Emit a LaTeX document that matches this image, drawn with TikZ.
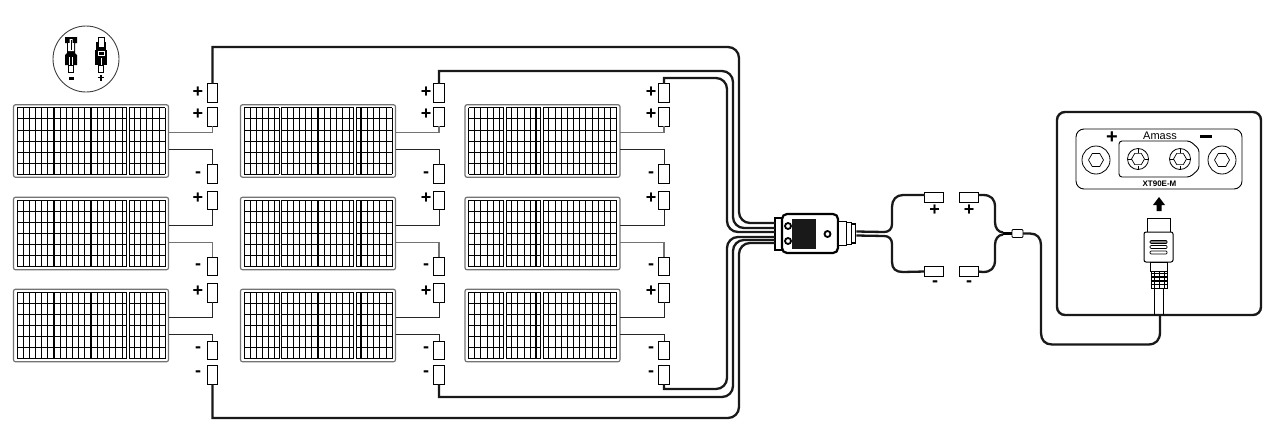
\documentclass[tikz,border=0pt]{standalone}
\usepackage{fontspec}
\setmainfont{Liberation Sans}
\usetikzlibrary{calc,shapes.geometric}
\tikzset{
 panel/.style={draw=black!55,line width=1.2pt,rounded corners=2pt,minimum width=155pt,minimum height=72.5pt,inner sep=0pt,outer sep=0pt},
 conbox/.style={draw=black,line width=.9pt,fill=white,minimum width=10.5pt,minimum height=18.5pt,inner sep=0pt,outer sep=0pt},
 hbox/.style={draw=black,line width=.9pt,fill=white,minimum width=18.5pt,minimum height=10.5pt,inner sep=0pt,outer sep=0pt},
 gwire/.style={draw=black!55,line width=1.3pt},
 kwire/.style={draw=black!85,line width=.9pt},
 bus/.style={draw=black!90,line width=2.3pt},
 lab/.style={font=\bfseries\fontsize{18}{18}\selectfont,inner sep=0pt},
 cell/.style={draw=black,line width=.75pt},
 thickdiv/.style={draw=black,line width=1.6pt}
}
\newcommand{\panelbase}[1]{%
 \begin{scope}[shift={(#1.north west)}]
  \foreach \i in {0,...,6}{\draw[cell] (3.5,3+11.1*\i) -- (151.5,3+11.1*\i);}
  \foreach \i in {0,...,24}{\draw[cell] (3.5+6.17*\i,3) -- (3.5+6.17*\i,69.6);}
 \end{scope}}
\newcommand{\dbldiv}[2]{%
 \begin{scope}[shift={(#1.north west)}]
  \fill[white] (#2-1,2.6) rectangle (#2+1,70);
  \draw[cell] (#2-1.4,3) -- (#2-1.4,69.6);
  \draw[cell] (#2+1.4,3) -- (#2+1.4,69.6);
 \end{scope}}
\newcommand{\thkdiv}[2]{%
 \begin{scope}[shift={(#1.north west)}]
  \draw[thickdiv] (#2,3) -- (#2,69.6);
 \end{scope}}
\begin{document}
\begin{tikzpicture}[x=1pt,y=-1pt]
\useasboundingbox (0,0) rectangle (1276,442);
% panels
\foreach \c/\x in {1/91,2/318,3/542.5}{
 \foreach \r/\y in {1/141,2/233.5,3/325.5}{
  \node[panel] (p\c\r) at (\x,\y) {};
  \panelbase{p\c\r}
 }}
\foreach \r in {1,2,3}{
 \dbldiv{p1\r}{114.5}\thkdiv{p1\r}{40.5}\thkdiv{p1\r}{77.5}
 \dbldiv{p2\r}{39.8}\dbldiv{p2\r}{114.5}\thkdiv{p2\r}{77.3}\thkdiv{p2\r}{120.7}
 \dbldiv{p3\r}{39.8}\dbldiv{p3\r}{77}\thkdiv{p3\r}{71}\thkdiv{p3\r}{114.5}
}
% connector boxes
\foreach \c/\x/\lx in {1/212.5/198,2/439/426,3/664/651}{
 \node[conbox] (top\c) at (\x,93) {};
 \node[conbox] (a\c) at (\x,117) {};
 \node[conbox] (b\c) at (\x,174) {};
 \node[conbox] (d\c) at (\x,200.5) {};
 \node[conbox] (e\c) at (\x,266.5) {};
 \node[conbox] (f\c) at (\x,293) {};
 \node[conbox] (g\c) at (\x,350.5) {};
 \node[conbox] (bot\c) at (\x,375) {};
 \node[lab] (lt\c) at (\lx,92) {+};
 \node[lab] (la\c) at (\lx,114) {+};
 \node[lab] (lb\c) at (\lx,175) {-};
 \node[lab] (ld\c) at (\lx,198) {+};
 \node[lab] (le\c) at (\lx,267) {-};
 \node[lab] (lf\c) at (\lx,291) {+};
 \node[lab] (lg\c) at (\lx,350) {-};
 \node[lab] (lh\c) at (\lx,374) {-};
 \draw[gwire] ($(p\c1.north east)+(0,28)$) -| (a\c.south);
 \draw[kwire] ($(p\c1.north east)+(0,45)$) -| (b\c.north);
 \draw[kwire] ($(p\c2.north east)+(0,28)$) -| (d\c.south);
 \draw[gwire] ($(p\c2.north east)+(0,45)$) -| (e\c.north);
 \draw[kwire] ($(p\c3.north east)+(0,28)$) -| (f\c.south);
 \draw[kwire] ($(p\c3.north east)+(0,45)$) -| (g\c.north);
}
% main connector
\node[draw=black,line width=2.2pt,fill=white,minimum width=7pt,minimum height=32pt,inner sep=0pt] (flange) at (778.5,234) {};
\node[draw=black,line width=2.2pt,fill=white,rounded corners=5pt,minimum width=56pt,minimum height=39pt,inner sep=0pt] (conn) at (810,233.5) {};
\node[fill=black!90,minimum width=24pt,minimum height=30pt,inner sep=0pt] (square) at (804,234) {};
\node[draw=black,line width=1.8pt,circle,minimum size=6pt,fill=white,inner sep=0pt] (h1) at (788,226) {};
\node[draw=black,line width=1.8pt,circle,minimum size=6pt,fill=white,inner sep=0pt] (h2) at (788,241) {};
\node[draw=black,line width=1.8pt,circle,minimum size=6pt,fill=white,inner sep=0pt] (h3) at (827.5,234) {};
\node[draw=black,line width=1.8pt,fill=white,minimum width=8pt,minimum height=24pt,inner sep=0pt] (sr1) at (842.5,233.5) {};
\node[draw=black,line width=1.8pt,fill=white,minimum width=5pt,minimum height=22pt,inner sep=0pt] (sr2) at (849,233.5) {};
\node[draw=black,line width=1.8pt,fill=white,minimum width=4pt,minimum height=19pt,inner sep=0pt] (sr3) at (853.5,233.5) {};
% buses
\coordinate (u1) at (739,47); \coordinate (u1b) at (775,223);
\coordinate (u2) at (733,71); \coordinate (u2b) at (775,228);
\coordinate (u3) at (727,78); \coordinate (u3b) at (775,232);
\coordinate (l1) at (739,418); \coordinate (l1b) at (775,243);
\coordinate (l2) at (733,397); \coordinate (l2b) at (775,240);
\coordinate (l3) at (727,389); \coordinate (l3b) at (775,237);
\draw[bus] (top1.north) -- (top1.north |- u1) [rounded corners=11pt] -- (u1) -- (u1 |- u1b) -- (u1b);
\draw[bus] (top2.north) -- (top2.north |- u2) [rounded corners=11pt] -- (u2) -- (u2 |- u2b) -- (u2b);
\draw[bus] (top3.north) -- (top3.north |- u3) [rounded corners=11pt] -- (u3) -- (u3 |- u3b) -- (u3b);
\draw[bus] (bot1.south) -- (bot1.south |- l1) [rounded corners=11pt] -- (l1) -- (l1 |- l1b) -- (l1b);
\draw[bus] (bot2.south) -- (bot2.south |- l2) [rounded corners=11pt] -- (l2) -- (l2 |- l2b) -- (l2b);
\draw[bus] (bot3.south) -- (bot3.south |- l3) [rounded corners=11pt] -- (l3) -- (l3 |- l3b) -- (l3b);
% splitter
\node[hbox] (lp) at (934,197.5) {};
\node[hbox] (rp) at (969,197.5) {};
\node[hbox] (lm) at (934,271.5) {};
\node[hbox] (rm) at (969,271.5) {};
\node[lab] at (934.5,210) (tlp) {+};
\node[lab] at (969,210) (trp) {+};
\node[lab] at (935,284) (tlm) {-};
\node[lab] at (969,284) (trm) {-};
\coordinate (forkr) at (1003,233.5);
\draw[bus] ($(sr3.east)+(0,-2)$) -- (884,232) .. controls (889,232) and (892,229) .. (892,224) -- (892,207) .. controls (892,200) and (896,195) .. (903,195) -- (lp.west |- 0,195);
\draw[bus] ($(sr3.east)+(0,2)$) -- (884,236) .. controls (889,236) and (892,239) .. (892,244) -- (892,262) .. controls (892,269) and (896,272) .. (903,272) -- (lm.west);
\node[hbox,minimum width=11pt,minimum height=8pt,line width=.8pt,rounded corners=1pt] (ins) at (1017.5,233.5) {};
\draw[bus] (rp.east |- 0,195) -- (983,195) .. controls (991,195) and (995,199) .. (995,207) -- (995,222) .. controls (995,228) and (998,232) .. (1003,232.5);
\draw[bus] (rm.east) -- (983,272) .. controls (991,272) and (995,268) .. (995,260) -- (995,245) .. controls (995,239) and (998,235) .. (1003,234.5);
\draw[draw=black,line width=3.5pt] (forkr) -- (ins.west);
% device
\node[draw=black!90,line width=2.4pt,rounded corners=8pt,minimum width=204pt,minimum height=203pt,inner sep=0pt] (dev) at (1159,213.5) {};
\node[draw=black,line width=.9pt,rounded corners=8pt,minimum width=166pt,minimum height=60pt,inner sep=0pt] (plate) at (1159,159) {};
\draw[bus] (ins.east) -- (1030,233.5) .. controls (1037,233.5) and (1041,238) .. (1041,245) -- (1041,333) .. controls (1041,340) and (1045,344.5) .. (1052,344.5) -- (1148,344.5) .. controls (1156,344.5) and (1160,340) .. (1160,332) -- (1160,315);
\foreach \n/\x in {sl/1096,sr/1222}{
 \node[draw=black,line width=.8pt,circle,minimum size=28pt,inner sep=0pt] (\n) at (\x,160) {};
 \node[draw=black,line width=.7pt,regular polygon,regular polygon sides=6,minimum size=15pt,inner sep=0pt] (\n h) at (\x,160) {};
}
\draw[draw=black,line width=.9pt,rounded corners=3pt] (1119,141) -- (1190,141) -- (1199,149) -- (1199,169) -- (1190,177) -- (1119,177) -- cycle;
\foreach \n/\x in {tl/1138,tr/1180}{
 \node[draw=black,line width=.8pt,circle,minimum size=21pt,inner sep=0pt] (\n) at (\x,159) {};
 \node[draw=black,line width=.7pt,regular polygon,regular polygon sides=6,minimum size=13pt,inner sep=0pt] (\n h) at (\x,159) {};
 \foreach \a in {0,90,180,270}{\draw[draw=black,line width=.6pt] ($(\n)+(\a:6.5)$) -- ($(\n)+(\a:10.5)$);}
}
\node[inner sep=0pt,font=\fontsize{11}{11}\selectfont] (amass) at (1160,136) {Amass};
\node[inner sep=0pt,font=\bfseries\fontsize{8}{8}\selectfont] (xt) at (1159.5,184) {XT90E-M};
\node[font=\bfseries\fontsize{20}{20}\selectfont,inner sep=0pt] (pl) at (1112,138) {+};
\node[fill=black,minimum width=12pt,minimum height=3.5pt,inner sep=0pt] (mn) at (1206,136.5) {};
\draw[fill=black,draw=none] (1159,197) -- (1165,205) -- (1161.5,205) -- (1161.5,211) -- (1156.5,211) -- (1156.5,205) -- (1153,205) -- cycle;
% plug
\node[draw=black,line width=.9pt,fill=white,minimum width=23pt,minimum height=16pt,inner sep=0pt] (ptop) at (1158.5,226) {};
\node[draw=black,line width=1pt,fill=white,rounded corners=2pt,minimum width=29pt,minimum height=30pt,inner sep=0pt] (pbody) at (1158.5,247) {};
\node[draw=black,line width=.7pt,fill=black!50,rounded corners=1pt,minimum width=17pt,minimum height=3pt,inner sep=0pt] (s1) at (1158.5,242) {};
\node[draw=black,line width=.7pt,rounded corners=1pt,minimum width=17pt,minimum height=3pt,inner sep=0pt] (s2) at (1158.5,247) {};
\node[draw=black,line width=.7pt,rounded corners=1pt,minimum width=17pt,minimum height=3pt,inner sep=0pt] (s3) at (1158.5,252.5) {};
\node[draw=black,line width=.9pt,minimum width=17pt,minimum height=9pt,inner sep=0pt] (pneck) at (1159,266.5) {};
\node[draw=black,line width=.9pt,minimum width=16pt,minimum height=17pt,inner sep=0pt] (prib) at (1159,279.5) {};
\foreach \y in {273.5,277,281,284.5}{\draw[draw=black,line width=1.1pt] (prib.west |- 0,\y) -- (prib.east |- 0,\y);}
\foreach \x in {1154,1159,1164}{\draw[draw=black,line width=.6pt] (\x,271) -- (\x,288);}
\draw[draw=black,line width=.9pt] (1154.5,288) -- (1154.5,315) (1163.5,288) -- (1163.5,315);
% inset
\node[draw=black!75,line width=.9pt,circle,minimum size=66pt,inner sep=0pt] (inset) at (86,59) {};
\begin{scope}
 % minus connector
 \fill[black] (65,37) -- (77,37) -- (77,43) -- (75,43) -- (75,53) -- (77,55) -- (77,65) -- (65,65) -- (65,55) -- (67,53) -- (67,43) -- (65,43) -- cycle;
 \fill[white] (69.5,39) -- (72.5,39) -- (72.5,43) -- (74,43) -- (74,51) -- (68,51) -- (68,43) -- (69.5,43) -- cycle;
 \draw[draw=black,line width=.7pt] (71,40) -- (71,50);
 \draw[draw=white,line width=.7pt] (69.5,57) -- (69.5,65) (72.5,57) -- (72.5,65);
 \draw[draw=black,line width=.9pt] (68.5,65) rectangle (73.5,72.5);
 \fill[black] (68.5,77) rectangle (73.5,79.5);
 % plus connector
 \fill[black] (96,42) rectangle (106,48);
 \draw[draw=black,line width=.9pt,fill=white] (98,37.5) rectangle (104,47);
 \fill[black] (95,50) rectangle (107,65);
 \fill[black] (96,47) rectangle (106,50);
 \draw[draw=white,line width=.7pt] (98,51.5) rectangle (104,55);
 \draw[draw=white,line width=.7pt] (101,58) -- (101,65);
 \draw[draw=black,line width=.9pt] (98.5,65) rectangle (103.5,72.5);
 \draw[draw=black,line width=1.2pt] (101,74.8) -- (101,80.8) (98,77.8) -- (104,77.8);
\end{scope}
\end{tikzpicture}
\end{document}
